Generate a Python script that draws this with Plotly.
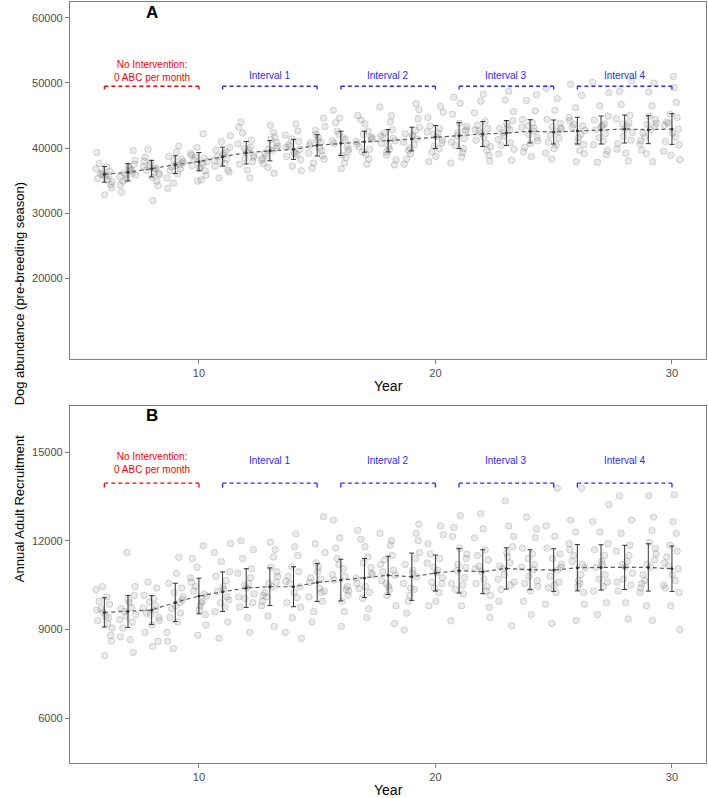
import plotly.graph_objects as go

# ---- data ----
years = list(range(6, 31))

# Panel A: dog abundance (pre-breeding season)
abund_mean = [35950, 36260, 36820, 37440, 37900, 38670, 39280, 39590, 39790, 40410,
              40720, 40970, 41120, 41380, 41690, 41900, 42150, 42310, 42560, 42460,
              42670, 42770, 42920, 42820, 42920]
abund_sd = [1200, 1330, 1280, 1360, 1410, 1460, 1740, 1560, 1540, 1640,
            1870, 1620, 1720, 1820, 1770, 2000, 1920, 1920, 1790, 1850,
            2050, 2150, 2150, 2150, 2360]
abund_runs = [
    [35900, 36400, 35300, 37100, 34800, 36000, 35600, 36800, 34400, 37600, 35100, 36300, 33900, 39300, 32800, 35800],
    [36200, 36900, 35500, 37500, 34900, 36600, 35900, 38100, 34300, 37200, 36100, 35200, 39600, 33200, 36500, 35800],
    [36800, 37400, 36100, 38000, 35500, 36900, 37700, 34900, 38600, 36300, 35900, 39800, 31900, 37100, 34200, 36600],
    [37400, 38100, 36800, 38700, 36000, 37900, 37100, 39400, 35400, 38300, 36500, 40300, 34600, 37700, 33800, 37300],
    [37900, 38600, 37100, 39200, 36500, 38200, 37600, 40100, 35800, 38900, 36900, 42200, 34900, 38400, 37300, 35100],
    [38700, 39400, 37900, 40100, 37200, 38900, 38300, 41000, 36600, 39700, 37600, 41900, 35400, 39200, 38100, 36300],
    [39300, 40100, 38400, 41200, 37500, 39700, 38800, 42300, 36600, 40600, 37900, 44000, 35400, 39900, 38600, 43200],
    [39600, 40300, 38800, 41300, 38100, 40000, 39200, 42400, 37000, 40800, 38400, 43500, 36100, 39800, 41700, 37600],
    [39800, 40500, 39000, 41400, 38200, 40100, 39400, 42600, 37200, 41000, 38700, 43700, 36500, 40300, 39100, 42000],
    [40400, 41200, 39600, 42100, 38800, 40800, 40000, 43300, 37700, 41600, 39200, 44600, 36900, 40900, 42700, 38300],
    [40700, 41600, 39800, 42600, 38900, 41100, 40300, 43900, 37700, 42100, 39400, 45800, 36800, 41300, 44600, 38500],
    [41000, 41700, 40200, 42600, 39400, 41300, 40600, 43700, 38300, 42100, 39800, 45000, 37500, 41500, 44300, 39000],
    [41100, 41900, 40300, 42800, 39400, 41500, 40700, 44000, 38200, 42300, 39800, 46300, 37400, 41700, 45000, 38900],
    [41400, 42200, 40500, 43200, 39600, 41800, 40900, 44500, 38300, 42700, 40000, 45900, 37500, 42000, 46800, 39100],
    [41700, 42500, 40800, 43400, 39900, 42100, 41200, 44700, 38700, 43000, 40300, 46400, 37900, 42300, 45500, 39400],
    [41900, 42800, 40900, 43800, 39900, 42400, 41400, 45200, 38600, 43300, 40400, 46900, 37700, 42600, 47800, 39300],
    [42200, 43000, 41200, 44100, 40200, 42600, 41700, 45400, 38900, 43500, 40700, 47200, 38000, 42800, 48300, 39600],
    [42300, 43200, 41300, 44200, 40400, 42800, 41800, 45600, 39100, 43700, 40800, 47400, 38100, 43000, 48700, 39800],
    [42600, 43400, 41600, 44400, 40700, 43000, 42100, 45700, 39400, 43900, 41100, 47300, 38700, 43200, 48200, 40100],
    [42500, 43300, 41500, 44400, 40500, 42900, 42000, 45800, 39200, 43800, 40900, 47600, 38300, 43100, 49200, 39900],
    [42700, 43600, 41600, 44700, 40500, 43200, 42100, 46200, 39100, 44200, 40900, 48100, 37900, 43400, 49800, 39600],
    [42800, 43700, 41600, 44900, 40500, 43300, 42200, 46500, 39000, 44300, 41000, 48500, 37800, 43500, 50100, 39600],
    [42900, 43900, 41800, 45000, 40700, 43400, 42400, 46700, 39200, 44500, 41200, 48700, 38000, 43700, 50300, 39800],
    [42800, 43800, 41700, 44900, 40600, 43300, 42300, 46500, 39100, 44400, 41100, 48600, 37900, 43600, 50000, 39700],
    [42900, 44000, 41700, 45200, 40500, 43500, 42300, 47000, 38900, 44700, 41000, 49300, 38200, 43800, 51000, 39500],
]

# Panel B: annual adult recruitment
recr_mean = [9575, 9610, 9655, 9914, 10130, 10275, 10400, 10444, 10444, 10590,
             10670, 10740, 10830, 10783, 10908, 10985, 10952, 11063, 11019, 11008,
             11087, 11098, 11098, 11098, 11053]
recr_sd = [496, 541, 485, 648, 603, 670, 654, 637, 676, 643,
           705, 660, 648, 800, 609, 755, 744, 699, 676, 721,
           783, 767, 750, 800, 767]
recr_runs = [
    [9580, 9850, 9300, 10100, 9050, 9700, 9450, 10350, 8800, 9950, 9200, 10450, 8600, 9650, 8110, 9400],
    [9610, 9900, 9330, 10150, 9050, 9750, 9450, 10450, 8750, 10000, 9250, 11600, 8220, 9700, 8650, 9500],
    [9650, 9920, 9400, 10150, 9150, 9800, 9500, 10400, 8900, 10050, 9300, 10600, 8420, 9720, 8600, 9550],
    [9910, 10250, 9550, 10550, 9250, 10100, 9700, 10900, 8900, 10400, 9400, 11440, 8350, 10000, 8600, 9800],
    [10130, 10450, 9800, 10750, 9500, 10300, 9950, 11100, 9150, 10600, 9650, 11830, 8800, 10200, 11400, 9900],
    [10280, 10650, 9900, 10950, 9600, 10450, 10100, 11300, 9250, 10800, 9750, 11900, 8700, 10350, 11600, 10000],
    [10400, 10750, 10050, 11050, 9750, 10550, 10200, 11400, 9400, 10900, 9900, 12000, 8900, 10500, 11700, 10100],
    [10440, 10800, 10100, 11100, 9800, 10600, 10250, 11450, 9450, 10950, 9950, 11950, 9100, 10550, 11700, 10150],
    [10440, 10800, 10080, 11120, 9750, 10620, 10250, 11500, 9400, 10950, 9900, 12230, 8700, 10550, 11800, 8900],
    [10590, 10950, 10250, 11250, 9950, 10750, 10400, 11600, 9600, 11100, 10100, 12810, 9250, 10700, 11900, 10300],
    [10670, 11050, 10300, 11400, 9950, 10850, 10450, 11750, 9600, 11200, 10150, 12700, 9100, 10800, 12100, 10350],
    [10740, 11100, 10380, 11450, 10050, 10900, 10550, 11800, 9700, 11250, 10250, 12350, 9400, 10850, 12050, 10450],
    [10830, 11200, 10450, 11500, 10150, 11000, 10650, 11850, 9800, 11350, 10350, 12250, 9200, 10950, 12000, 10550],
    [10780, 11200, 10350, 11600, 9950, 11000, 10550, 12000, 9550, 11400, 10150, 12560, 8980, 10900, 12250, 10400],
    [10910, 11250, 10550, 11550, 10250, 11100, 10750, 11900, 9950, 11400, 10400, 12500, 9800, 11000, 12200, 10600],
    [10990, 11400, 10550, 11750, 10200, 11200, 10750, 12150, 9800, 11550, 10350, 12850, 9290, 11100, 12450, 10500],
    [10950, 11350, 10550, 11700, 10150, 11150, 10700, 12100, 9750, 11500, 10300, 12920, 9400, 11050, 12400, 10450],
    [11060, 11450, 10700, 11800, 10350, 11250, 10850, 12150, 9950, 11600, 10500, 13350, 9125, 11150, 12500, 10600],
    [11020, 11400, 10650, 11750, 10300, 11200, 10800, 12100, 9950, 11550, 10450, 12800, 9500, 11100, 12400, 10550],
    [11010, 11400, 10600, 11750, 10250, 11200, 10800, 12150, 9850, 11550, 10400, 13780, 9200, 11100, 12500, 10500],
    [11090, 11500, 10650, 11900, 10250, 11300, 10850, 12300, 9850, 11700, 10450, 13780, 9300, 11200, 12700, 10550],
    [11100, 11500, 10700, 11900, 10300, 11300, 10850, 12300, 9900, 11700, 10450, 13220, 9500, 11200, 12650, 10600],
    [11100, 11500, 10700, 11850, 10300, 11300, 10900, 12250, 9900, 11650, 10500, 13520, 9350, 11200, 12700, 10600],
    [11100, 11550, 10650, 11950, 10250, 11350, 10850, 12350, 9800, 11750, 10400, 13520, 9300, 11200, 12800, 10550],
    [11050, 11450, 10650, 11850, 10250, 11250, 10850, 12250, 9800, 11650, 10400, 13560, 8990, 11150, 12650, 10500],
]

# intervention periods (start year, end year, label)
periods = [(6, 10, "No Intervention:<br>0 ABC per month"),
           (11, 15, "Interval 1"), (16, 20, "Interval 2"),
           (21, 25, "Interval 3"), (26, 30, "Interval 4")]

# horizontal jitter pattern for the simulation runs
jitter = [-0.05, 0.22, -0.28, 0.10, 0.33, -0.15, 0.05, -0.35,
          0.27, -0.22, 0.15, -0.08, 0.30, -0.32, 0.02, 0.18]

FONT = "Arial, Liberation Sans, sans-serif"

fig = go.Figure()


def add_panel(runs, mean, sd, xa, ya):
    xs, ys = [], []
    for i, yr in enumerate(years):
        for k, v in enumerate(runs[i]):
            xs.append(yr + jitter[(k + i * 5) % len(jitter)])
            ys.append(v)
    fig.add_trace(go.Scatter(
        x=xs, y=ys, mode="markers", xaxis=xa, yaxis=ya, showlegend=False,
        marker=dict(size=6.5, color="rgba(150,150,150,0.20)",
                    line=dict(width=0.8, color="rgba(90,90,90,0.28)"))))
    fig.add_trace(go.Scatter(
        x=years, y=mean, mode="lines+markers", xaxis=xa, yaxis=ya, showlegend=False,
        line=dict(color="#606060", width=1.2, dash="4px,3px"),
        marker=dict(size=3, color="#333333"),
        error_y=dict(type="data", array=sd, visible=True, color="#333333",
                     thickness=1, width=2.5)))


add_panel(abund_runs, abund_mean, abund_sd, "x", "y")
add_panel(recr_runs, recr_mean, recr_sd, "x2", "y2")

# brackets and labels for the intervention periods
panel_marks = [
    # xref, yref, bracket y, tick length, label y (single line), label y (two lines)
    ("x", "y", 49500, 500, 51080, 51850),
    ("x2", "y2", 13950, 150, 14720, 14620),
]
for xr, yr_, by, tl, ly, ly2 in panel_marks:
    for i, (x0, x1, lab) in enumerate(periods):
        col = "red" if i == 0 else "#2a2aff"
        fig.add_shape(type="line", xref=xr, yref=yr_, x0=x0, x1=x1, y0=by, y1=by,
                      line=dict(color=col, width=1.3, dash="4px,3px"))
        for xe in (x0, x1):
            fig.add_shape(type="line", xref=xr, yref=yr_, x0=xe, x1=xe,
                          y0=by, y1=by - tl, line=dict(color=col, width=1.3))
        fig.add_annotation(x=(x0 + x1) / 2, y=ly2 if i == 0 else ly, xref=xr, yref=yr_,
                           text=lab, showarrow=False, align="center",
                           font=dict(family=FONT, size=10, color=col))

# panel letters
fig.add_annotation(x=8, y=60900, xref="x", yref="y", text="<b>A</b>", showarrow=False,
                   font=dict(family=FONT, size=17, color="black"))
fig.add_annotation(x=8, y=16230, xref="x2", yref="y2", text="<b>B</b>", showarrow=False,
                   font=dict(family=FONT, size=17, color="black"))

axis_common = dict(showgrid=False, zeroline=False, showline=True, mirror=True,
                   automargin=False, tickformat="d",
                   linecolor="#7f7f7f", linewidth=1.3, ticks="outside", ticklen=4,
                   tickcolor="#7f7f7f", tickfont=dict(family=FONT, size=11, color="#4d4d4d"))

fig.update_layout(
    width=708, height=798,
    margin=dict(l=0, r=0, t=0, b=0),
    plot_bgcolor="white", paper_bgcolor="white",
    xaxis=dict(domain=[0.0989, 0.9972], range=[4.55, 31.44], tickvals=[10, 20, 30],
               anchor="y", **axis_common),
    yaxis=dict(domain=[0.5501, 0.9975], range=[7540, 62460],
               tickvals=[20000, 30000, 40000, 50000, 60000], anchor="x", **axis_common),
    xaxis2=dict(domain=[0.0989, 0.9972], range=[4.55, 31.44], tickvals=[10, 20, 30],
                anchor="y2", **axis_common),
    yaxis2=dict(domain=[0.0439, 0.4912], range=[4480, 16560],
                tickvals=[6000, 9000, 12000, 15000], anchor="x2", **axis_common),
)

# axis titles
for xr, txt in (("x", "Year"), ("x2", "Year")):
    fig.add_annotation(x=0.5, y=0, xref=xr + " domain", yref=("y" if xr == "x" else "y2") + " domain",
                       yanchor="top", yshift=-17, text=txt, showarrow=False,
                       font=dict(family=FONT, size=14, color="black"))
fig.add_annotation(x=10 / 708, y=0.774, xref="paper", yref="paper", textangle=-90,
                   text="Dog abundance (pre-breeding season)", showarrow=False,
                   font=dict(family=FONT, size=13, color="black"))
fig.add_annotation(x=10 / 708, y=0.268, xref="paper", yref="paper", textangle=-90,
                   text="Annual Adult Recruitment", showarrow=False,
                   font=dict(family=FONT, size=13, color="black"))

# drop the browser's default page margin so the figure fills the window
fig.write_html("out.html", config={"displayModeBar": False},
               post_script="document.body.style.margin='0';")
